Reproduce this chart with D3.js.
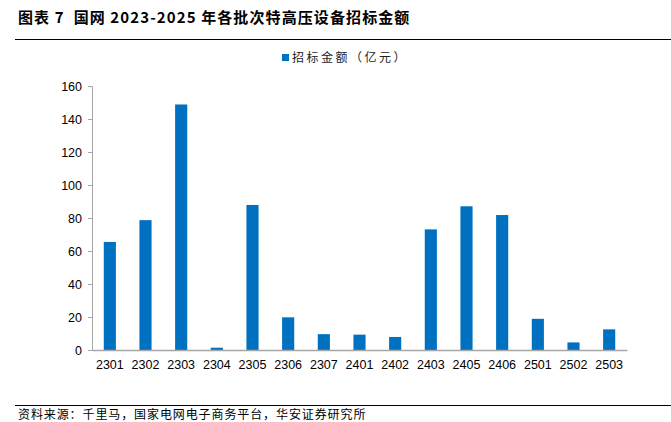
<!DOCTYPE html>
<html><head><meta charset="utf-8">
<script src="https://cdn.jsdelivr.net/npm/d3@7/dist/d3.min.js"></script>
<style>body{margin:0;background:#fff}svg{display:block}</style>
</head><body><svg id="c" width="671" height="422"></svg>
<script>
const categories = ["2301","2302","2303","2304","2305","2306","2307","2401","2402","2403","2405","2406","2501","2502","2503"];
const values = [65.5, 78.7, 148.8, 1.4, 87.9, 19.8, 9.6, 9.3, 7.9, 73.1, 87.1, 81.8, 18.9, 4.6, 12.5];
const yTicks = [0, 20, 40, 60, 80, 100, 120, 140, 160];
const seriesName = "招标金额（亿元）";
const title = "图表 7  国网 2023-2025 年各批次特高压设备招标金额";
const source = "资料来源：千里马，国家电网电子商务平台，华安证券研究所";

const svg = d3.select("#c");
const m = {left: 92, right: 627, top: 86, bottom: 350};
const x = d3.scaleBand().domain(categories).range([m.left, m.right]).paddingInner(0.66).paddingOuter(0.33);
const y = d3.scaleLinear().domain([0, 160]).range([m.bottom, m.top]);

// title
svg.append("text").attr("x", 18).attr("y", 23).attr("font-family", "'Noto Sans CJK SC'")
  .attr("font-size", 15).attr("font-weight", "bold").attr("letter-spacing", 1.1)
  .style("white-space", "pre").attr("fill", "#000").text(title);
svg.append("line").attr("x1", 15).attr("x2", 671).attr("y1", 39.5).attr("y2", 39.5).attr("stroke", "#000").attr("stroke-width", 1.2);

// legend
svg.append("rect").attr("x", 282).attr("y", 54).attr("width", 7).attr("height", 7).attr("fill", "#0070C0");
svg.append("text").attr("x", 292).attr("y", 62).attr("font-family", "'Noto Sans CJK SC'")
  .attr("font-size", 12).attr("letter-spacing", 2.5).attr("fill", "#222").text(seriesName);

// y axis
const ya = svg.append("g").attr("transform", `translate(${m.left},0)`)
  .call(d3.axisLeft(y).tickValues(yTicks).tickSize(4).tickPadding(6));
ya.select(".domain").attr("stroke", "#a6a6a6");
ya.selectAll(".tick line").attr("stroke", "#a6a6a6");
ya.selectAll("text").attr("font-family", "Arial, 'Liberation Sans'").attr("font-size", 12.5).attr("fill", "#000");

// bars
svg.append("g").selectAll("rect").data(values).join("rect")
  .attr("x", (d, i) => x(categories[i]))
  .attr("width", x.bandwidth())
  .attr("y", d => y(d))
  .attr("height", d => y(0) - y(d))
  .attr("fill", "#0070C0");

// x axis
const xa = svg.append("g").attr("transform", `translate(0,${m.bottom})`)
  .call(d3.axisBottom(x).tickSize(0).tickPadding(10));
xa.select(".domain").attr("stroke", "#a6a6a6").attr("stroke-width", 1.5);
xa.selectAll("text").attr("font-family", "Arial, 'Liberation Sans'").attr("font-size", 12.5).attr("fill", "#000");

// footer
svg.append("line").attr("x1", 15).attr("x2", 671).attr("y1", 405.5).attr("y2", 405.5).attr("stroke", "#000").attr("stroke-width", 1.2);
svg.append("text").attr("x", 18).attr("y", 419).attr("font-family", "'Noto Sans CJK SC'")
  .attr("font-size", 12).attr("letter-spacing", 0.9).attr("fill", "#000").text(source);
</script></body></html>
